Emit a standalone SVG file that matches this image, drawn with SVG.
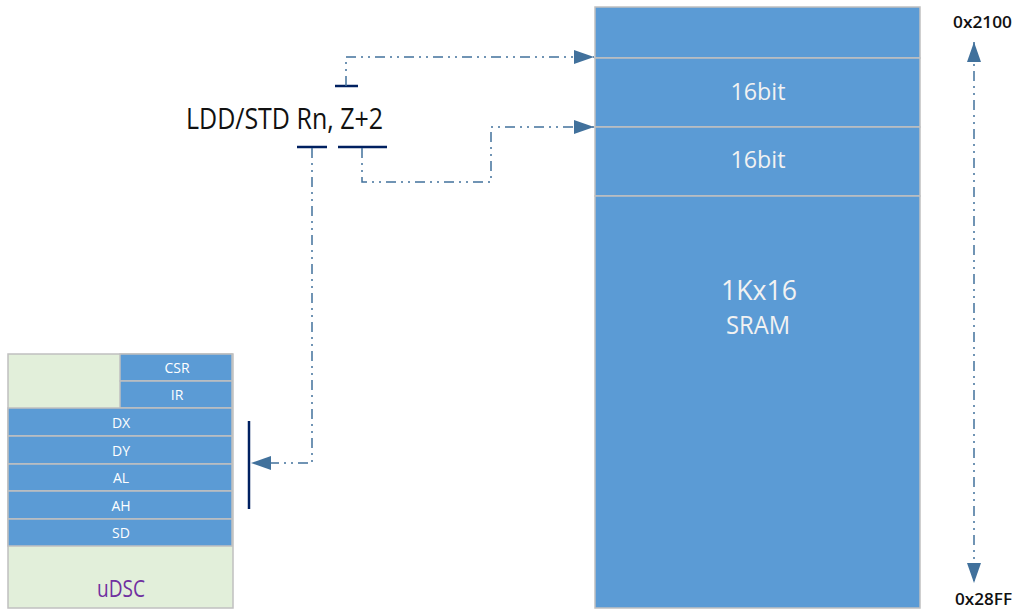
<svg xmlns="http://www.w3.org/2000/svg" width="1021" height="615" viewBox="0 0 1021 615">
<defs>
<style>
.cell{fill:#5b9bd5;stroke:#c0c0c0;stroke-width:1.5}
.bg{fill:#e2efda;stroke:#c0c0c0;stroke-width:1.5}
.reg{font-family:"Open Sans","Liberation Sans",sans-serif;font-size:14px;fill:#ffffff;text-anchor:middle}
.wt{font-family:"Open Sans","Liberation Sans",sans-serif;fill:#f2f2f2;text-anchor:middle}
.lab{font-family:"Open Sans","Liberation Sans",sans-serif;fill:#111111}
.con{fill:none;stroke:#41719c;stroke-width:1.5;stroke-dasharray:10 5 2 5 2 5}
.bar{stroke:#002060;stroke-width:2.5;fill:none}
</style>
<marker id="ah" viewBox="0 0 20 14" refX="20" refY="7" markerWidth="20" markerHeight="14" markerUnits="userSpaceOnUse" orient="auto">
<path d="M0,0 L20,7 L0,14 Z" fill="#41719c"/>
</marker>
<marker id="ahs" viewBox="0 0 20 14" refX="20" refY="7" markerWidth="20" markerHeight="14" markerUnits="userSpaceOnUse" orient="auto-start-reverse">
<path d="M0,0 L20,7 L0,14 Z" fill="#41719c"/>
</marker>
</defs>
<rect width="1021" height="615" fill="#ffffff"/>

<g id="sram">
<rect class="cell" x="595" y="7" width="325" height="51"/>
<rect class="cell" x="595" y="58" width="325" height="69"/>
<rect class="cell" x="595" y="127" width="325" height="69"/>
<rect class="cell" x="595" y="196" width="325" height="412"/>
<text class="wt" x="758" y="100" font-size="24" textLength="55" lengthAdjust="spacingAndGlyphs">16bit</text>
<text class="wt" x="758" y="168" font-size="24" textLength="55" lengthAdjust="spacingAndGlyphs">16bit</text>
<text class="wt" x="759" y="300" font-size="28" textLength="76" lengthAdjust="spacingAndGlyphs">1Kx16</text>
<text class="wt" x="758" y="334" font-size="25" textLength="64" lengthAdjust="spacingAndGlyphs">SRAM</text>
</g>

<g id="udsc">
<rect class="bg" x="8" y="354" width="225" height="254"/>
<rect class="cell" x="120" y="354" width="112" height="27"/>
<rect class="cell" x="120" y="381" width="112" height="27"/>
<rect class="cell" x="8" y="408" width="224" height="28"/>
<rect class="cell" x="8" y="436" width="224" height="28"/>
<rect class="cell" x="8" y="464" width="224" height="27"/>
<rect class="cell" x="8" y="491" width="224" height="28"/>
<rect class="cell" x="8" y="519" width="224" height="27"/>
<text class="reg" x="177" y="373">CSR</text>
<text class="reg" x="177" y="400">IR</text>
<text class="reg" x="121" y="428">DX</text>
<text class="reg" x="121" y="456">DY</text>
<text class="reg" x="121" y="483">AL</text>
<text class="reg" x="121" y="511">AH</text>
<text class="reg" x="121" y="538">SD</text>
<text x="121" y="597" font-family="Open Sans, Liberation Sans, sans-serif" font-size="23" fill="#7030a0" text-anchor="middle" textLength="48" lengthAdjust="spacingAndGlyphs">uDSC</text>
</g>

<g id="instr">
<text class="lab" x="186" y="129" font-size="29" textLength="197" lengthAdjust="spacingAndGlyphs">LDD/STD Rn, Z+2</text>
<line class="bar" x1="297" y1="147" x2="327" y2="147"/>
<line class="bar" x1="338" y1="147" x2="387" y2="147"/>
<line class="bar" x1="335" y1="86" x2="358" y2="86"/>
<line class="bar" x1="249" y1="421" x2="249" y2="509"/>
</g>

<g id="addr">
<text class="lab" x="953" y="28" font-size="17" font-weight="600" textLength="59" lengthAdjust="spacingAndGlyphs">0x2100</text>
<text class="lab" x="955" y="605" font-size="17" font-weight="600" textLength="57" lengthAdjust="spacingAndGlyphs">0x28FF</text>
</g>

<g id="connectors">
<path class="con" d="M346,86 V57 H594" marker-end="url(#ah)"/>
<path class="con" d="M362,148 V182 H491 V127 H594" marker-end="url(#ah)"/>
<path class="con" d="M312,148 V463 H251" marker-end="url(#ah)"/>
<path class="con" d="M974,42 V583" marker-start="url(#ahs)" marker-end="url(#ah)"/>
</g>
</svg>
